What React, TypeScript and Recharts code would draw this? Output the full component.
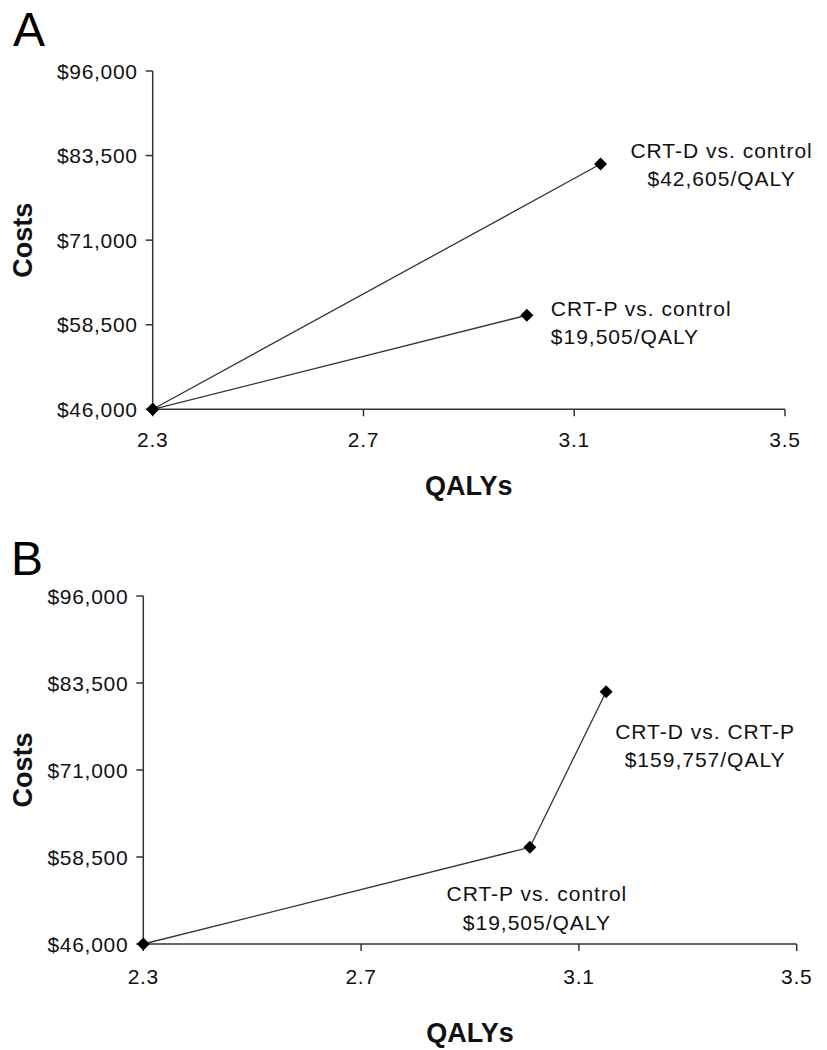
import React from 'react';
import { ScatterChart, Scatter, XAxis, YAxis, ReferenceDot } from 'recharts';

// strategies, QALYs and costs
const strategies = ['Control', 'CRT-P', 'CRT-D'];
const qalys = [2.3, 3.01, 3.15];
const costs = [46000, 59900, 82250];

const xTicks = [2.3, 2.7, 3.1, 3.5];
const yTicks = [46000, 58500, 71000, 83500, 96000];

// annotation text per panel
const panelALabels = {
  'CRT-D': ['CRT-D vs. control', '$42,605/QALY'],
  'CRT-P': ['CRT-P vs. control', '$19,505/QALY'],
};
const panelBLabels = {
  'CRT-D': ['CRT-D vs. CRT-P', '$159,757/QALY'],
  'CRT-P': ['CRT-P vs. control', '$19,505/QALY'],
};

const FONT = '"Liberation Sans", Arial, Helvetica, sans-serif';
const INK = '#333';

const pt = (name: string) => {
  const i = strategies.indexOf(name);
  return { name, qaly: qalys[i], cost: costs[i] };
};

const fmtCost = (v: number) => '$' + v.toLocaleString('en-US');

const Diamond = (props: any) => {
  const { cx, cy } = props;
  const r = 6.5;
  return (
    <polygon
      points={`${cx},${cy - r} ${cx + r},${cy} ${cx},${cy + r} ${cx - r},${cy}`}
      fill="#000"
    />
  );
};

// custom ticks so the font size sticks
const XTick = (p: any) => (
  <text x={p.x} y={p.y + 15} textAnchor="middle" fontFamily={FONT} fontSize={21} letterSpacing={0.7} fill="#111">
    {Number(p.payload.value).toFixed(1)}
  </text>
);
const YTick = (p: any) => (
  <text x={p.x} y={p.y + 7.5} textAnchor="end" fontFamily={FONT} fontSize={21} letterSpacing={0.7} fill="#111">
    {fmtCost(p.payload.value)}
  </text>
);

type LabelStyle = { anchor: 'start' | 'middle'; dx: number; dy: [number, number] };

const makeNote = (lines: string[], s: LabelStyle) => (p: any) => {
  const vb = p.viewBox;
  const cx = vb.x + vb.width / 2;
  const cy = vb.y + vb.height / 2;
  return (
    <text
      textAnchor={s.anchor}
      fontFamily={FONT}
      fontSize={21}
      letterSpacing={1}
      fill="#111"
    >
      <tspan x={cx + s.dx} y={cy + s.dy[0]}>{lines[0]}</tspan>
      <tspan x={cx + s.dx} y={cy + s.dy[1]}>{lines[1]}</tspan>
    </text>
  );
};

const yTitle = (p: any) => {
  const vb = p.viewBox;
  const x = vb.x + 23;
  const y = vb.y + vb.height / 2;
  return (
    <text
      x={x}
      y={y}
      transform={`rotate(-90, ${x}, ${y})`}
      textAnchor="middle"
      dominantBaseline="central"
      fontFamily={FONT}
      fontSize={27}
      fontWeight="bold"
      fill="#111"
    >
      Costs
    </text>
  );
};

const xTitle = (baseline: number) => (p: any) => {
  const vb = p.viewBox;
  return (
    <text
      x={vb.x + vb.width / 2}
      y={vb.y + baseline}
      textAnchor="middle"
      fontFamily={FONT}
      fontSize={27}
      fontWeight="bold"
      fill="#111"
    >
      QALYs
    </text>
  );
};

type PanelProps = {
  height: number;
  margin: { top: number; right: number; left: number; bottom: number };
  yWidth: number;
  xHeight: number;
  xTickMargin: number;
  yTickMargin: number;
  titleBaseline: number;
  series: { name: string; qaly: number; cost: number }[][];
  notes: Record<string, string[]>;
  noteStyles: Record<string, LabelStyle>;
};

function Panel(props: PanelProps) {
  return (
    <ScatterChart width={827} height={props.height} margin={props.margin}>
      <XAxis
        type="number"
        dataKey="qaly"
        domain={[2.3, 3.5]}
        ticks={xTicks}
        tick={<XTick />}
        tickSize={7}
        tickMargin={props.xTickMargin}
        stroke={INK}
        strokeWidth={1.5}
        height={props.xHeight}
        label={{ content: xTitle(props.titleBaseline) }}
      />
      <YAxis
        type="number"
        dataKey="cost"
        domain={[46000, 96000]}
        ticks={yTicks}
        tick={<YTick />}
        tickSize={7}
        tickMargin={props.yTickMargin}
        stroke={INK}
        strokeWidth={1.5}
        width={props.yWidth}
        label={{ content: yTitle }}
      />
      {props.series.map((d, i) => (
        <Scatter
          key={i}
          data={d}
          line={{ stroke: INK, strokeWidth: 1.3 }}
          shape={Diamond}
          isAnimationActive={false}
        />
      ))}
      {Object.keys(props.notes).map((name) => {
        const p = pt(name);
        return (
          <ReferenceDot
            key={name}
            x={p.qaly}
            y={p.cost}
            r={1}
            fill="none"
            stroke="none"
            ifOverflow="visible"
            label={{ content: makeNote(props.notes[name], props.noteStyles[name]) }}
          />
        );
      })}
    </ScatterChart>
  );
}

const letterStyle: React.CSSProperties = {
  position: 'absolute',
  fontFamily: FONT,
  fontSize: 48,
  lineHeight: '48px',
  color: '#000',
};

export default function App() {
  return (
    <div style={{ position: 'absolute', left: 0, top: 0, width: 827, height: 1050, background: '#fff' }}>
      <div style={{ ...letterStyle, left: 13, top: 6 }}>A</div>
      <div style={{ ...letterStyle, left: 11, top: 535 }}>B</div>
      <div style={{ position: 'absolute', left: 0, top: 0 }}>
        <Panel
          height={520}
          margin={{ top: 71, right: 42, left: 0, bottom: 24.7 }}
          yWidth={152.7}
          xHeight={86}
          xTickMargin={16}
          yTickMargin={8}
          titleBaseline={86}
          series={[
            [pt('Control'), pt('CRT-D')],
            [pt('Control'), pt('CRT-P')],
          ]}
          notes={panelALabels}
          noteStyles={{
            'CRT-D': { anchor: 'middle', dx: 121, dy: [-6, 21.5] },
            'CRT-P': { anchor: 'start', dx: 24, dy: [0.5, 28.5] },
          }}
        />
      </div>
      <div style={{ position: 'absolute', left: 0, top: 520 }}>
        <Panel
          height={530}
          margin={{ top: 76, right: 30.3, left: 0, bottom: 6 }}
          yWidth={143.3}
          xHeight={100}
          xTickMargin={18}
          yTickMargin={8}
          titleBaseline={98}
          series={[[pt('Control'), pt('CRT-P'), pt('CRT-D')]]}
          notes={panelBLabels}
          noteStyles={{
            'CRT-D': { anchor: 'middle', dx: 99, dy: [47.5, 75.5] },
            'CRT-P': { anchor: 'middle', dx: 7, dy: [53.5, 82.5] },
          }}
        />
      </div>
    </div>
  );
}
